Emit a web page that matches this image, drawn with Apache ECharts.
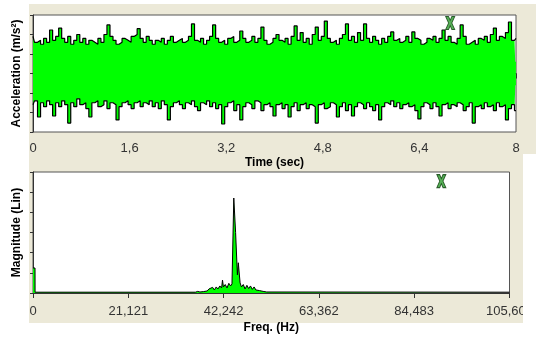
<!DOCTYPE html>
<html>
<head>
<meta charset="utf-8">
<script src="https://cdn.jsdelivr.net/npm/echarts@6/dist/echarts.min.js"></script>
<style>
html,body{margin:0;padding:0;background:#fff;}
#c{width:536px;height:338px;}
</style>
</head>
<body>
<div id="c"></div>
<script>
// ---- data ----
const timeTickLabels = ['0', '1,6', '3,2', '4,8', '6,4', '8'];
const freqTickLabels = ['0', '21,121', '42,242', '63,362', '84,483', '105,604'];
const sampleStep = 0.05; // s, envelope sample spacing
// upper envelope of acceleration signal (arbitrary units, axis -3..3)
const accelUpper = [
 1.9,1.6,1.7,1.5,1.8,1.6,2.23,1.7,1.9,2.33,
 1.8,1.6,1.9,1.5,1.7,2.0,1.6,1.8,1.5,1.7,
 1.6,1.5,1.8,1.6,2.0,2.49,1.9,1.7,1.5,1.6,
 1.8,1.7,1.6,1.9,2.0,2.3,1.8,1.6,1.9,1.7,
 1.5,1.7,1.6,1.8,1.5,1.7,1.9,1.6,1.7,1.8,
 1.6,1.7,1.9,2.54,1.7,1.6,1.8,1.5,1.7,1.9,
 2.49,1.8,1.6,1.7,1.5,1.8,1.9,1.6,1.7,2.18,
 1.8,1.6,1.7,1.9,1.6,1.8,2.38,1.7,1.5,1.6,
 1.8,2.0,1.7,1.6,1.8,1.5,1.9,2.44,1.7,2.1,
 1.6,1.8,1.5,2.0,2.38,1.7,1.9,2.69,1.8,1.6,
 1.7,1.5,1.8,2.0,2.54,1.7,1.9,1.6,2.1,1.7,
 2.54,1.8,1.6,1.9,1.7,1.5,1.8,1.6,1.9,2.13,
 1.7,1.8,1.6,1.7,1.9,1.6,2.13,1.8,1.7,1.5,
 1.6,1.8,1.7,1.9,1.6,1.8,2.23,1.7,1.9,1.6,
 1.5,1.8,2.49,1.9,1.5,1.6,1.7,1.5,1.8,1.7,
 1.9,1.6,2.0,2.33,1.7,1.9,1.8,2.1,2.64,1.7,
 1.8
];
// lower envelope
const accelLower = [
 -1.6,-1.4,-2.23,-1.5,-1.7,-1.4,-1.6,-2.18,-1.5,-1.7,
 -1.4,-1.6,-2.54,-1.5,-1.7,-1.3,-1.6,-1.5,-1.8,-2.23,
 -1.5,-1.4,-1.7,-1.6,-1.4,-1.8,-1.5,-1.6,-2.38,-1.7,
 -1.5,-1.4,-1.6,-1.8,-1.5,-1.4,-1.7,-1.5,-1.6,-1.4,
 -1.7,-1.5,-1.8,-1.4,-1.6,-2.38,-1.7,-1.5,-1.4,-1.6,
 -1.8,-1.5,-1.6,-1.4,-1.7,-1.9,-1.5,-1.6,-1.4,-1.7,
 -1.5,-1.8,-1.6,-2.59,-1.7,-1.5,-1.4,-1.9,-1.6,-2.38,
 -1.7,-1.5,-1.6,-1.8,-1.4,-1.5,-1.9,-1.6,-1.5,-1.7,
 -2.18,-1.6,-1.5,-1.8,-1.6,-2.23,-1.7,-1.5,-1.9,-1.6,
 -1.5,-1.8,-1.6,-1.7,-2.54,-1.6,-1.5,-1.8,-1.7,-1.5,
 -1.6,-2.23,-1.7,-1.5,-1.9,-1.6,-2.18,-1.7,-1.5,-1.6,
 -1.8,-1.5,-1.7,-1.9,-1.6,-2.38,-1.7,-1.5,-1.6,-1.4,
 -1.7,-1.5,-1.8,-1.6,-1.5,-1.7,-1.6,-1.9,-2.33,-1.7,
 -1.5,-1.6,-1.8,-1.5,-1.7,-2.18,-1.6,-1.5,-1.8,-1.6,
 -1.7,-1.5,-1.6,-1.9,-1.7,-1.5,-2.54,-1.7,-1.6,-1.8,
 -1.5,-1.7,-1.6,-1.9,-1.5,-1.7,-1.6,-2.38,-1.8,-1.6,
 -1.9
];
// spectrum
const freqHz = [0,450,460,36000,36500,37000,37400,37800,38200,38600,39000,39400,39800,40200,40600,41000,41400,41800,42000,42200,42600,43000,43400,43800,44100,44300,44500,44700,44900,45100,45300,45500,45700,45900,46200,46600,47000,47400,47800,48200,48600,49000,49400,49800,50200,50600,51000,51400,51800,52200,105604];
const magnitude = [1.24,1.24,0.04,0.04,0.08,0.05,0.12,0.07,0.15,0.1,0.2,0.12,0.28,0.15,0.3,0.2,0.35,0.25,0.64,0.3,0.42,0.25,0.48,0.35,0.45,0.4,4.71,4.71,3.0,3.0,0.9,1.5,1.5,0.5,0.3,0.42,0.2,0.38,0.22,0.35,0.18,0.3,0.15,0.22,0.12,0.18,0.08,0.12,0.05,0.04,0.04];
// cursor markers
const timeCursor = [6.91, 2.59];
const freqCursor = [90500, 5.55];

// ---- chart ----
const FONT = '"Liberation Sans", Arial, sans-serif';
const upperData = accelUpper.map((v, i) => [i * sampleStep, v]);
const lowerData = accelLower.map((v, i) => [i * sampleStep, v]);
const specData = freqHz.map((f, i) => [f, magnitude[i]]);
const xPath = 'path://M0,0 L3.2,0 L5,4.2 L6.8,0 L10,0 L6.8,7 L10,14 L6.8,14 L5,9.8 L3.2,14 L0,14 L3.2,7 Z';

const axisCommonX = (labels, step, margin, name, gap) => ({
  type: 'value', min: 0, interval: step,
  name: name, nameLocation: 'middle', nameGap: gap,
  nameTextStyle: {fontFamily: FONT, fontSize: 12, fontWeight: 'bold', color: '#000'},
  axisLine: {show: true, lineStyle: {color: '#333', width: 1}},
  axisTick: {show: true, length: 5, lineStyle: {color: '#333'}},
  axisLabel: {fontFamily: FONT, fontSize: 13, color: '#333', margin: margin,
    formatter: v => labels[Math.round(v / step)] ?? ''},
  splitLine: {show: false}
});
const axisCommonY = (min, max, name) => ({
  type: 'value', min: min, max: max, interval: 1,
  name: name, nameLocation: 'middle', nameGap: 10,
  nameTextStyle: {fontFamily: FONT, fontSize: 12, fontWeight: 'bold', color: '#000'},
  axisLine: {show: true, lineStyle: {color: '#333', width: 1}},
  axisTick: {show: true, length: 3, lineStyle: {color: '#333'}},
  axisLabel: {show: false},
  splitLine: {show: false}
});

const chart = echarts.init(document.getElementById('c'), null, {renderer: 'canvas'});
const topX = axisCommonX(timeTickLabels, 1.6, 10, 'Time (sec)', 25); topX.max = 8; topX.gridIndex = 0;
const botX = axisCommonX(freqTickLabels, 21120.8, 12, 'Freq. (Hz)', 29); botX.max = 105604; botX.gridIndex = 1;
const topY = axisCommonY(-3, 3, 'Acceleration (m/s²)'); topY.gridIndex = 0;
const botY = axisCommonY(0, 6, 'Magnitude (Lin)'); botY.gridIndex = 1;

chart.setOption({
  animation: false,
  backgroundColor: '#fff',
  textStyle: {fontFamily: FONT},
  graphic: [
    {type: 'rect', z: -10, shape: {x: 29, y: 4, width: 507, height: 150}, style: {fill: '#ECE9D8'}},
    {type: 'rect', z: -10, shape: {x: 29, y: 154, width: 494, height: 169}, style: {fill: '#ECE9D8'}},
    {type: 'rect', z: 100, shape: {x: 523, y: 154, width: 13, height: 184}, style: {fill: '#fff'}}
  ],
  grid: [
    {left: 33, top: 15, width: 483, height: 117, show: true, backgroundColor: '#fff', borderColor: '#555', borderWidth: 1},
    {left: 33, top: 172, width: 483, height: 121, show: true, backgroundColor: '#fff', borderColor: '#555', borderWidth: 1}
  ],
  xAxis: [topX, botX],
  yAxis: [topY, botY],
  series: [
    {type: 'line', xAxisIndex: 0, yAxisIndex: 0, data: upperData, step: 'middle', symbol: 'none',
     lineStyle: {color: '#000', width: 1.2}, areaStyle: {color: '#00FF00', opacity: 1, origin: -0.6}},
    {type: 'line', xAxisIndex: 0, yAxisIndex: 0, data: lowerData, step: 'middle', symbol: 'none',
     lineStyle: {color: '#000', width: 1.2}, areaStyle: {color: '#00FF00', opacity: 1, origin: 0.6}},
    {type: 'line', xAxisIndex: 1, yAxisIndex: 1, data: specData, symbol: 'none',
     lineStyle: {color: '#000', width: 1}, areaStyle: {color: '#00FF00', opacity: 1}},
    {type: 'scatter', xAxisIndex: 0, yAxisIndex: 0, data: [timeCursor], symbol: xPath, symbolSize: [9, 13],
     itemStyle: {color: '#2E9E2E', borderColor: '#0B3D0B', borderWidth: 1}, z: 10},
    {type: 'scatter', xAxisIndex: 1, yAxisIndex: 1, data: [freqCursor], symbol: xPath, symbolSize: [9, 13],
     itemStyle: {color: '#2E9E2E', borderColor: '#0B3D0B', borderWidth: 1}, z: 10}
  ]
});
</script>
</body>
</html>
